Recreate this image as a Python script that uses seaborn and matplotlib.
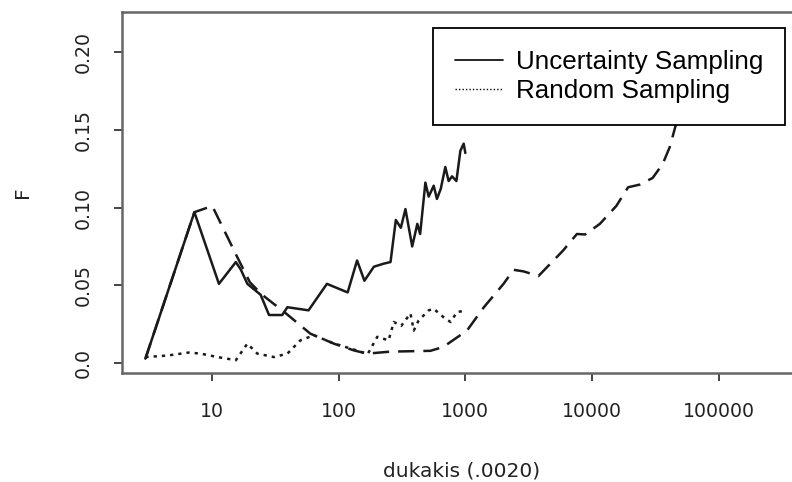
import matplotlib
matplotlib.use("Agg")
import matplotlib.pyplot as plt
from matplotlib.lines import Line2D
from matplotlib.ticker import FixedLocator, NullLocator
import seaborn as sns
import pandas as pd

# ---- data ----
unc_x = [3, 7.3, 11.4, 15.5, 17, 19.1, 24.3, 28.3, 36, 39.5, 58, 81, 118, 140, 160, 190,
         228, 257, 283, 310, 337, 381, 418, 440, 484, 514, 563, 597, 640, 695, 738, 785,
         850, 914, 970, 1000]
unc_y = [0.003, 0.097, 0.051, 0.065, 0.060, 0.051, 0.044, 0.031, 0.031, 0.036, 0.034, 0.051,
         0.0455, 0.066, 0.053, 0.062, 0.064, 0.065, 0.092, 0.087, 0.099, 0.075, 0.0895,
         0.083, 0.116, 0.107, 0.114, 0.1055, 0.112, 0.126, 0.117, 0.12, 0.117, 0.1365,
         0.141, 0.135]

rnd_x = [3, 4.5, 6.6, 8.2, 11.1, 15.5, 19.1, 22.9, 31, 39.5, 50, 64, 90, 130, 170, 202,
         248, 273, 312, 369, 392, 428, 514, 563, 670, 765, 860, 970]
rnd_y = [0.004, 0.005, 0.0069, 0.0062, 0.004, 0.002, 0.0126, 0.0062, 0.004, 0.0062,
         0.0147, 0.018, 0.013, 0.009, 0.006, 0.017, 0.0147, 0.0265, 0.024, 0.032, 0.021,
         0.0275, 0.034, 0.035, 0.0297, 0.0265, 0.033, 0.0335]

oth_x = [3, 7.3, 10.1, 15.5, 20, 25, 31, 36, 60, 92, 132, 168, 257, 530, 670, 1030, 1400,
         2000, 2400, 2880, 3770, 5900, 7580, 8800, 11500, 15500, 19200, 23700, 30000,
         36000, 41000, 46000, 55000]
oth_y = [0.003, 0.097, 0.101, 0.070, 0.052, 0.044, 0.038, 0.034, 0.019, 0.0126, 0.0083,
         0.0062, 0.0075, 0.008, 0.0105, 0.021, 0.036, 0.051, 0.060, 0.059, 0.056, 0.0724,
         0.083, 0.0827, 0.0895, 0.101, 0.113, 0.1147, 0.119, 0.128, 0.139, 0.154, 0.18]

x_ticks = [10, 100, 1000, 10000, 100000]
x_ticklabels = ["10", "100", "1000", "10000", "100000"]
y_ticks = [0.0, 0.05, 0.10, 0.15, 0.20]
y_ticklabels = ["0.0", "0.05", "0.10", "0.15", "0.20"]
legend_labels = ["Uncertainty Sampling", "Random Sampling"]

sns.set_theme(style="white")
plt.rcParams["font.family"] = ["DejaVu Sans"]

W, H = 792, 482
fig = plt.figure(figsize=(W / 100, H / 100), dpi=100)
left_px, right_px, top_px, bot_px = 121.7, 802, 11.7, 373.3
ax = fig.add_axes([left_px / W, 1 - bot_px / H, (right_px - left_px) / W, (bot_px - top_px) / H])
ax.set_facecolor("white")

lc = "#1a1a1a"
lw = 1.8
sns.lineplot(x=unc_x, y=unc_y, ax=ax, color=lc, lw=lw, estimator=None, linestyle="-")
sns.lineplot(x=oth_x, y=oth_y, ax=ax, color=lc, lw=lw, estimator=None, linestyle=(0, (6.5, 3.6)))
sns.lineplot(x=rnd_x, y=rnd_y, ax=ax, color=lc, lw=lw, estimator=None, linestyle=(0, (1.3, 2.0)))

ax.set_xscale("log")
ax.set_xlim(10 ** 0.2902, 10 ** 5.6546)
ax.set_ylim(-0.00642, 0.2257)

ax.xaxis.set_major_locator(FixedLocator(x_ticks))
ax.xaxis.set_minor_locator(NullLocator())
ax.set_xticks(x_ticks)
ax.set_xticklabels(x_ticklabels)
ax.set_yticks(y_ticks)
ax.set_yticklabels(y_ticklabels, rotation=90, va="center")

tc = "#222222"
ax.tick_params(axis="both", which="major", direction="out", length=6, width=1.4,
               color="#444444", labelsize=13.6, labelcolor=tc, pad=15,
               bottom=True, left=True)

for s in ["left", "bottom", "top"]:
    ax.spines[s].set_visible(True)
    ax.spines[s].set_color("#666666")
    ax.spines[s].set_linewidth(1.8)
ax.spines["right"].set_visible(False)

ax.set_xlabel("dukakis (.0020)", fontsize=14.5, color=tc, labelpad=28.5)
ax.set_ylabel("F", fontsize=14.5, color=tc, labelpad=30)

handles = [Line2D([], [], color="black", lw=1.2, linestyle="-"),
           Line2D([], [], color="black", lw=1.0, linestyle=(0, (1, 1.5)))]
leg = ax.legend(handles, legend_labels, loc="upper left",
                bbox_to_anchor=(432.7 / W, 1 - 28.3 / H), bbox_transform=fig.transFigure,
                borderaxespad=0, frameon=True, fancybox=False, framealpha=1,
                edgecolor="black", facecolor="white",
                prop={"family": "Liberation Sans", "size": 18.7},
                handlelength=1.85, handletextpad=0.5, borderpad=0.84, labelspacing=0.18)
leg.get_frame().set_linewidth(1.3)
for t in leg.get_texts():
    t.set_color("black")

fig.savefig("out.png", dpi=100)
